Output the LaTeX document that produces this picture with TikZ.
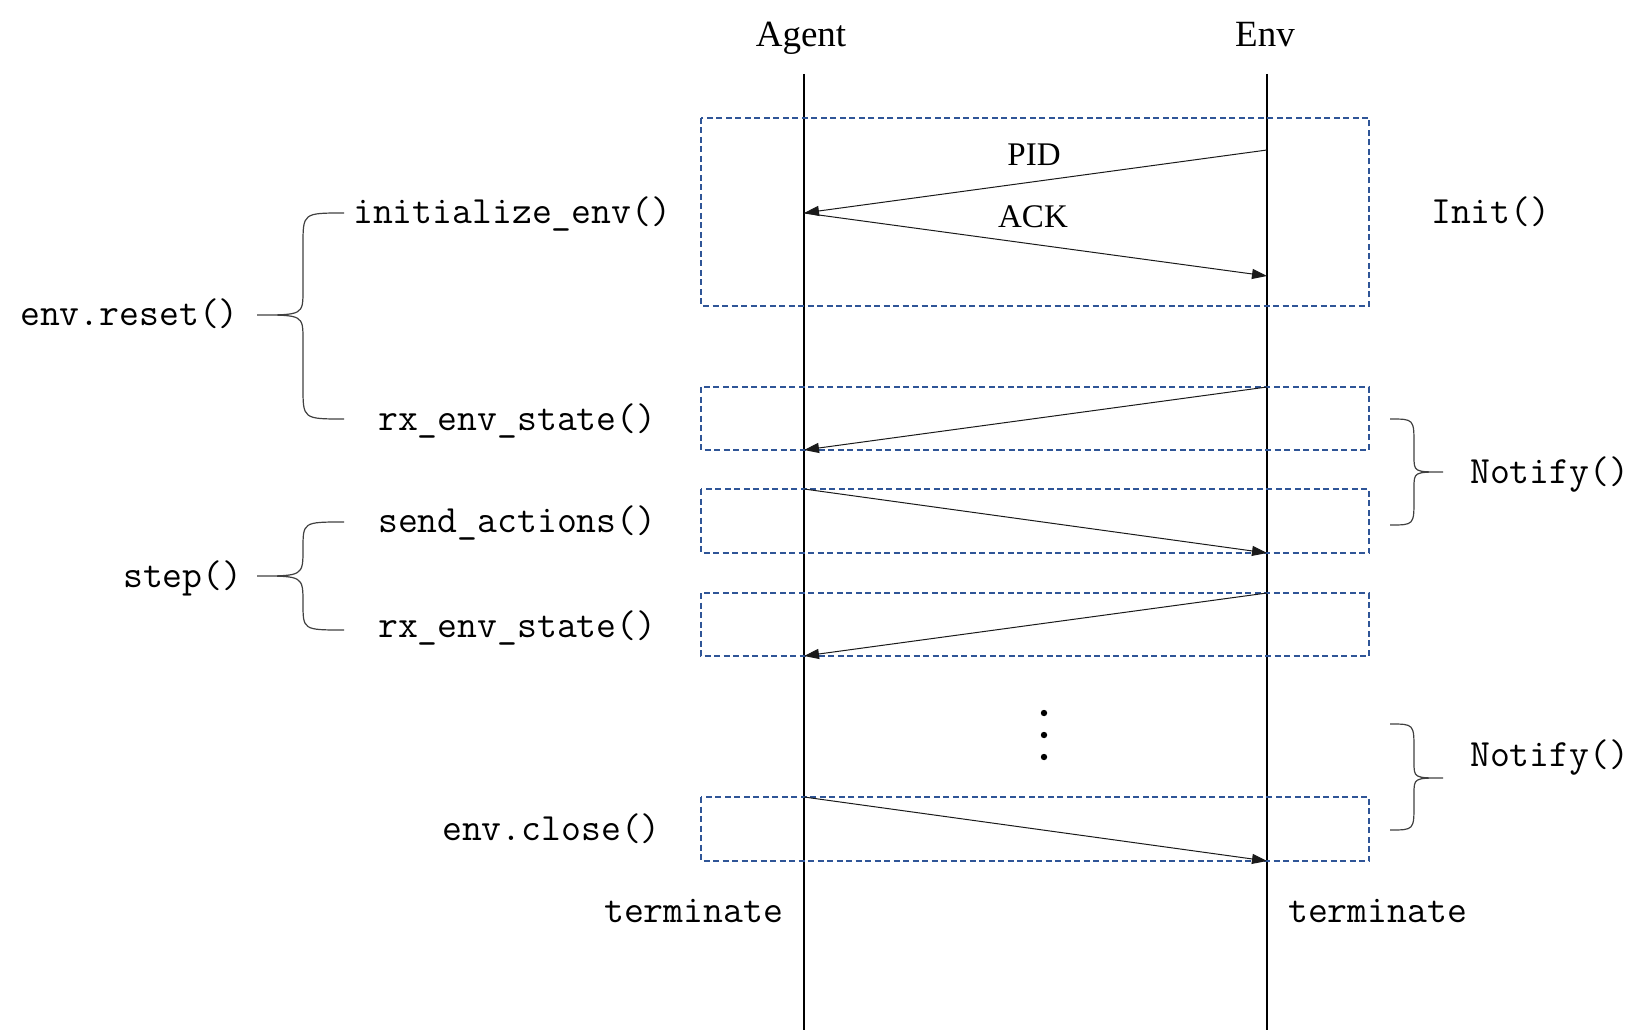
\documentclass[tikz,border=0pt]{standalone}
\usepackage{fontspec}
\setmainfont{Liberation Serif}
\usetikzlibrary{arrows.meta}
\definecolor{boxblue}{HTML}{2F5597}
\definecolor{bracegray}{HTML}{404040}
\definecolor{arrowblack}{HTML}{1A1A1A}
\begin{document}
\begin{tikzpicture}[x=1pt,y=-1pt,
  title/.style={font=\fontsize{37}{40}\selectfont, anchor=base, inner sep=0pt},
  msglabel/.style={font=\fontsize{33}{36}\selectfont, anchor=base, inner sep=0pt},
  code/.style={font=\ttfamily\fontsize{38.6}{42}\selectfont, anchor=base west, inner sep=0pt},
  lifeline/.style={line width=1.1pt},
  phase/.style={draw=boxblue, dash pattern=on 6pt off 3.5pt, line width=2pt},
  msgarrow/.style={draw=arrowblack, line width=1pt, -{Triangle[length=15pt,width=10pt]}},
  bracepath/.style={draw=bracegray, line width=1.2pt},
  dot/.style={fill=black}]
\useasboundingbox (0,0) rectangle (1650,1032);

% titles
\node[title] (agent) at (801,47) {Agent};
\node[title] (env) at (1265,47) {Env};

% lifelines
\coordinate (atop) at (804,74);
\coordinate (abot) at (804,1030);
\coordinate (etop) at (1267,74);
\coordinate (ebot) at (1267,1030);
\draw[lifeline] (atop) -- (abot);
\draw[lifeline] (etop) -- (ebot);

% phase boxes
\draw[phase] (701,118) rectangle (1369,306);
\draw[phase] (701,387) rectangle (1369,450);
\draw[phase] (701,489) rectangle (1369,553);
\draw[phase] (701,593) rectangle (1369,656);
\draw[phase] (701,797) rectangle (1369,861);

% message end points
\coordinate (e1) at (1267,150);
\coordinate (a1) at (804,213);
\coordinate (e2) at (1267,276);
\coordinate (e3) at (1267,387);
\coordinate (a3) at (804,450);
\coordinate (a4) at (804,489);
\coordinate (e4) at (1267,553);
\coordinate (e5) at (1267,593);
\coordinate (a5) at (804,656);
\coordinate (a6) at (804,797);
\coordinate (e6) at (1267,861);

\draw[msgarrow] (e1) -- (a1);
\draw[msgarrow] (a1) -- (e2);
\draw[msgarrow] (e3) -- (a3);
\draw[msgarrow] (a4) -- (e4);
\draw[msgarrow] (e5) -- (a5);
\draw[msgarrow] (a6) -- (e6);

\node[msglabel] (pid) at (1034,166) {PID};
\node[msglabel] (ack) at (1033,228) {ACK};

% dots
\fill[dot] (1044,713) circle (3.2pt);
\fill[dot] (1044,735) circle (3.2pt);
\fill[dot] (1044,757) circle (3.2pt);

% left code labels
\node[code] (initenv) at (353,224) {initialize\_env()};
\node[code] (reset) at (20,326) {env.reset()};
\node[code] (rx1) at (378,430) {rx\_env\_state()};
\node[code] (send) at (378,532) {send\_actions()};
\node[code] (stepfn) at (123,587) {step()};
\node[code] (rx2) at (378,637) {rx\_env\_state()};
\node[code] (close) at (442,840) {env.close()};
\node[code] (termA) at (604,922) {terminate};
\node[code] (termE) at (1288,922) {terminate};
\node[code] (init) at (1431,224) {Init()};
\node[code] (notify1) at (1470,483) {Notify()};
\node[code] (notify2) at (1470,766) {Notify()};

% left braces
\draw[bracepath] (344,213) .. controls (303,213) .. (303,245) -- (303,290)
  .. controls (303,315) .. (257,315) .. controls (303,315) .. (303,340)
  -- (303,387) .. controls (303,419) .. (344,419);
\draw[bracepath] (344,522) .. controls (303,522) .. (303,549)
  .. controls (303,576) .. (257,576) .. controls (303,576) .. (303,603)
  .. controls (303,630) .. (344,630);

% right braces
\draw[bracepath] (1390,419) .. controls (1414,419) .. (1414,445) -- (1414,456)
  .. controls (1414,472) .. (1443,472) .. controls (1414,472) .. (1414,488)
  -- (1414,499) .. controls (1414,525) .. (1390,525);
\draw[bracepath] (1390,724) .. controls (1414,724) .. (1414,750) -- (1414,762)
  .. controls (1414,778) .. (1443,778) .. controls (1414,778) .. (1414,794)
  -- (1414,804) .. controls (1414,830) .. (1390,830);
\end{tikzpicture}
\end{document}
